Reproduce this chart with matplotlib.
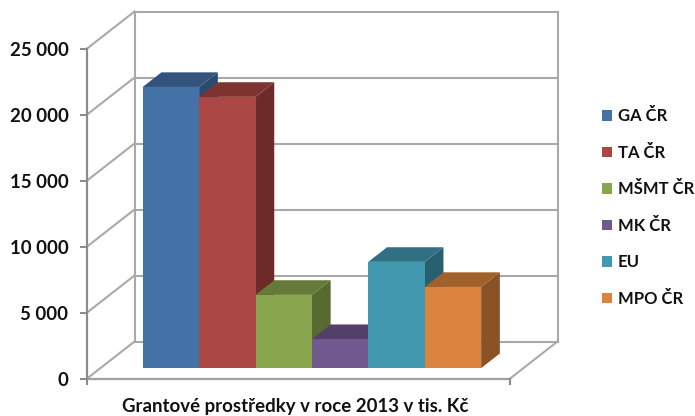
import matplotlib
matplotlib.use("Agg")
import matplotlib.pyplot as plt
from matplotlib.patches import Patch, Polygon

categories = ["GA ČR", "TA ČR", "MŠMT ČR", "MK ČR", "EU", "MPO ČR"]
values = [21300, 20550, 5550, 2200, 8050, 6150]
front_colors = ["#4472a6", "#aa4643", "#89a54e", "#71588f", "#4198af", "#db843d"]
top_colors = ["#33547b", "#7f3331", "#657a39", "#53406a", "#2f7082", "#a2602b"]
side_colors = ["#2c4a6d", "#6c2b29", "#576a31", "#47375c", "#28606f", "#8a5226"]
y_ticks = [0, 5000, 10000, 15000, 20000, 25000]
y_labels = ["0", "5 000", "10 000", "15 000", "20 000", "25 000"]
x_title = "Grantové prostředky v roce 2013 v tis. Kč"

plt.rcParams["font.family"] = ["Lato", "DejaVu Sans"]
W, H = 695, 416
fig = plt.figure(figsize=(W / 100, H / 100), dpi=100)
ax = fig.add_axes([0, 0, 1, 1])
ax.axis("off")

# category units: 56.4 px per unit, value units: 66 px per 5000
px_u = 56.4
px_v = 66 / 5000
ax.set_xlim(-86.5 / px_u, (W - 86.5) / px_u)
ax.set_ylim(-(H - 379) / px_v, 379 / px_v)

DX = 48 / px_u        # horizontal shift of the full depth
DY = 37.5 / px_v      # vertical shift of the full depth
FLOOR = 7.5
TOP = y_ticks[-1]


def P(u, v, w=0.0):
    """Oblique projection of (category position, value, depth)."""
    return (u + w * DX, v + w * DY)


def line(a, b, color="#a9a9a9", lw=1.5, z=1):
    ax.plot([a[0], b[0]], [a[1], b[1]], color=color, lw=lw, zorder=z,
            solid_capstyle="projecting")


# back wall and side wall grid
for t in y_ticks:
    line(P(0, t, 1), P(FLOOR, t, 1))
    line(P(0, t, 0), P(0, t, 1))
line(P(0, 0, 1), P(0, TOP, 1))
line(P(FLOOR, 0, 1), P(FLOOR, TOP, 1))
line(P(FLOOR, 0, 0), P(FLOOR, 0, 1))

# value axis and floor front edge
axis_color = "#8c8c8c"
line(P(0, 0), P(0, TOP), axis_color, 1.6, 3)
line(P(0, 0), P(FLOOR, 0), "#a0a0a0", 1.6, 3)
for t, lab in zip(y_ticks, y_labels):
    ax.plot([-0.09, 0], [t, t], color=axis_color, lw=1.5, zorder=3)
    ax.text(-0.32, t, lab, ha="right", va="center_baseline", fontsize=13.4,
            fontweight="bold", color="#111111")
for u in (0, FLOOR):
    ax.plot([u, u], [0, -400], color=axis_color, lw=1.5, zorder=3)

# bars
w0, w1 = 0.29, 0.68
base = 0
gap = 0.75
for i, (val, fc, tc, sc) in enumerate(zip(values, front_colors, top_colors, side_colors)):
    l, r = gap + i, gap + i + 1
    z = 5 + i
    ax.add_patch(Polygon([P(r, base, w0), P(r, base, w1), P(r, base + val, w1), P(r, base + val, w0)],
                         closed=True, fc=sc, ec="none", zorder=z))
    ax.add_patch(Polygon([P(l, base + val, w0), P(r, base + val, w0), P(r, base + val, w1), P(l, base + val, w1)],
                         closed=True, fc=tc, ec="none", zorder=z))
    ax.add_patch(Polygon([P(l, base, w0), P(r, base, w0), P(r, base + val, w0), P(l, base + val, w0)],
                         closed=True, fc=fc, ec="none", zorder=z))

# axis title
ax.text(295.5 / W, 0.023, x_title, transform=ax.transAxes, ha="center", va="center",
        fontsize=13.4, fontweight="bold", color="#111111")

# legend
handles = [Patch(fc=c, ec="none", label=n) for n, c in zip(categories, front_colors)]
leg = ax.legend(handles=handles, loc="center left", bbox_to_anchor=(602 / W, 1 - 207.5 / H),
                bbox_transform=ax.transAxes, frameon=False, borderpad=0, borderaxespad=0,
                handlelength=0.6, handleheight=0.6, handletextpad=0.36, labelspacing=1.23,
                prop={"size": 12, "weight": "bold"})
for t in leg.get_texts():
    t.set_color("#111111")

fig.savefig("out.png", dpi=100)
